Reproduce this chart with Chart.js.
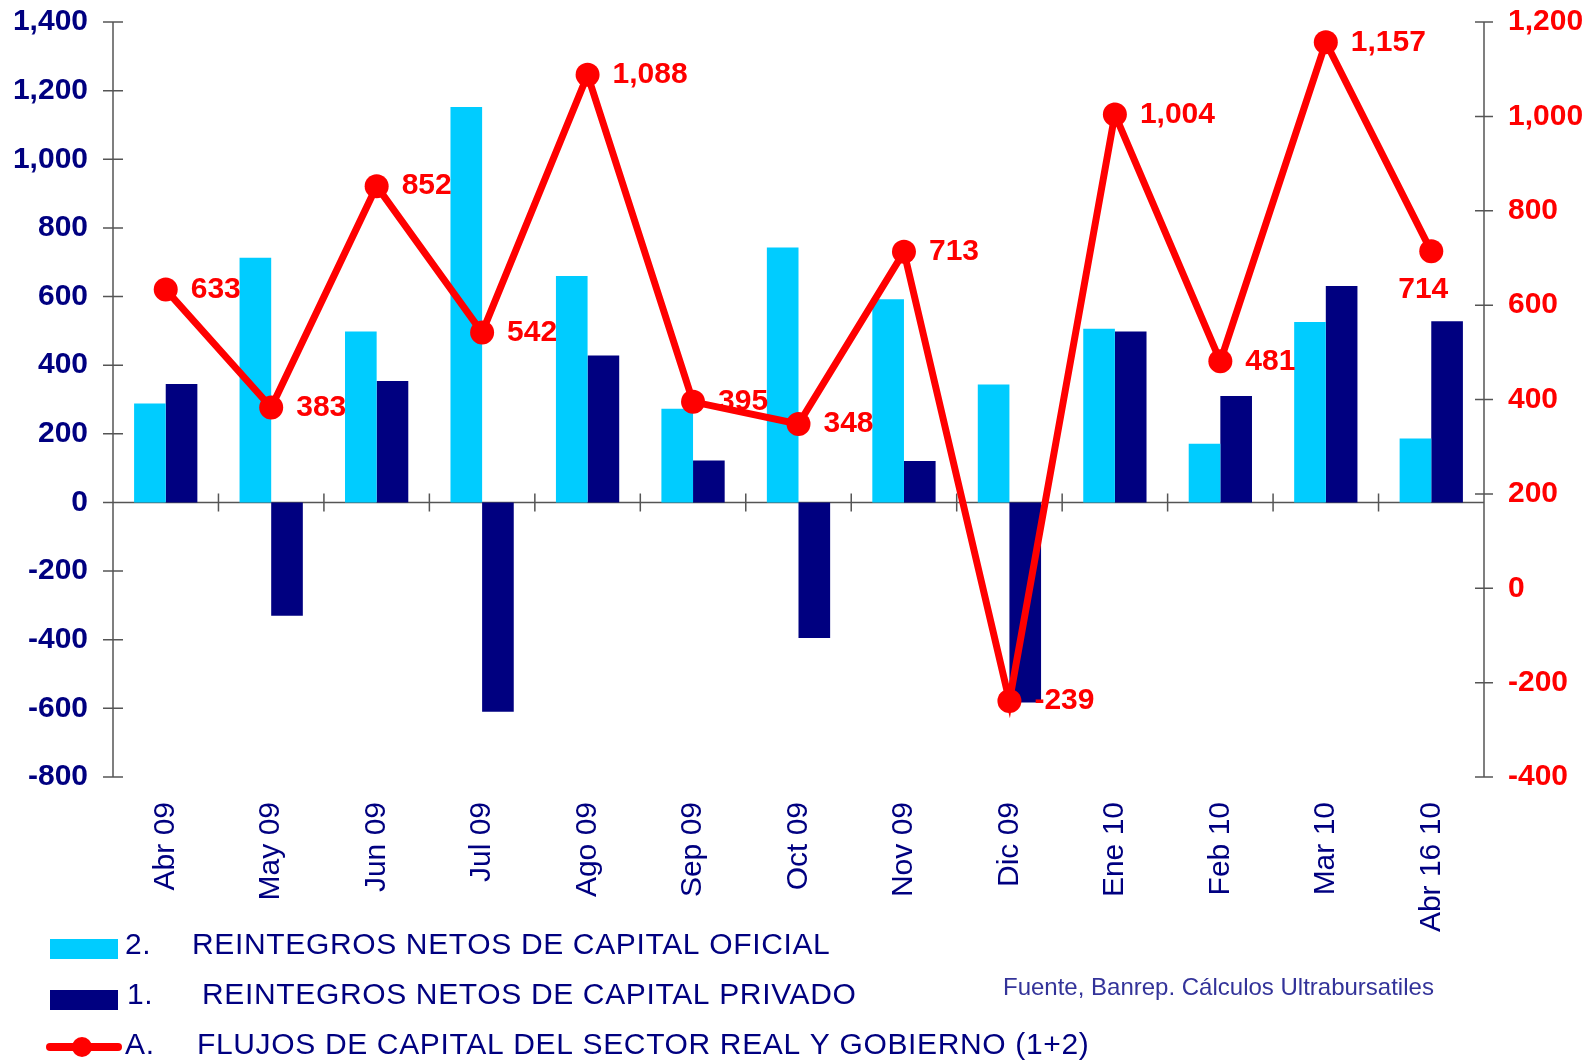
<!DOCTYPE html>
<html>
<head>
<meta charset="utf-8">
<script src="https://cdn.jsdelivr.net/npm/chart.js@4"></script>
<style>
  html, body { margin: 0; padding: 0; background: #fff; }
  #wrap { width: 1591px; height: 1061px; position: relative; }
</style>
</head>
<body>
<div id="wrap"><canvas id="flujosChart"></canvas></div>
<script>
// --- data ---
const categories = ['Abr 09', 'May 09', 'Jun 09', 'Jul 09', 'Ago 09', 'Sep 09', 'Oct 09',
                    'Nov 09', 'Dic 09', 'Ene 10', 'Feb 10', 'Mar 10', 'Abr 16 10'];
const oficial = [288, 713, 498, 1152, 660, 273, 743, 592, 344, 506, 171, 526, 186];
const privado = [345, -330, 354, -610, 428, 122, -395, 121, -583, 498, 310, 631, 528];
const flujos  = [633, 383, 852, 542, 1088, 395, 348, 713, -239, 1004, 481, 1157, 714];

const leftTicks  = { min: -800, max: 1400, step: 200 };
const rightTicks = { min: -400, max: 1200, step: 200 };

const seriesNames = [
  '2. REINTEGROS NETOS DE CAPITAL OFICIAL',
  '1. REINTEGROS NETOS DE CAPITAL PRIVADO',
  'A. FLUJOS DE CAPITAL DEL SECTOR REAL Y GOBIERNO (1+2)'
];
const sourceNote = 'Fuente, Banrep. Cálculos Ultrabursatiles';

const FONT = "'Liberation Sans', Arial, sans-serif";
const NAVY = '#000080';
const CYAN = '#00CCFF';
const RED = '#FF0000';

const fmt = v => Number(v).toLocaleString('en-US');

// axis lines with crossing tick marks (drawn behind the bars)
const axisLines = {
  id: 'axisLines',
  beforeDatasetsDraw(chart) {
    const { ctx, chartArea: a, scales } = chart;
    const x = scales.x, y = scales.y, y1 = scales.y1;
    ctx.save();
    ctx.strokeStyle = '#555';
    ctx.lineWidth = 1.5;
    ctx.beginPath();
    ctx.moveTo(a.left, a.top); ctx.lineTo(a.left, a.bottom);
    y.ticks.forEach(t => {
      const py = y.getPixelForValue(t.value);
      ctx.moveTo(a.left - 10, py); ctx.lineTo(a.left + 10, py);
    });
    ctx.moveTo(a.right, a.top); ctx.lineTo(a.right, a.bottom);
    y1.ticks.forEach(t => {
      const py = y1.getPixelForValue(t.value);
      ctx.moveTo(a.right - 9, py); ctx.lineTo(a.right + 9, py);
    });
    const zy = y.getPixelForValue(0);
    ctx.moveTo(a.left, zy); ctx.lineTo(a.right, zy);
    const half = (x.getPixelForValue(1) - x.getPixelForValue(0)) / 2;
    for (let i = 0; i <= categories.length; i++) {
      const bx = x.getPixelForValue(i) - half;
      ctx.moveTo(bx, zy - 9); ctx.lineTo(bx, zy + 9);
    }
    ctx.stroke();
    ctx.restore();
  }
};

// red value labels next to the line points
const pointLabels = {
  id: 'pointLabels',
  afterDatasetsDraw(chart) {
    const { ctx } = chart;
    const meta = chart.getDatasetMeta(2);
    ctx.save();
    ctx.fillStyle = RED;
    ctx.font = 'bold 30px ' + FONT;
    ctx.textBaseline = 'middle';
    meta.data.forEach((pt, i) => {
      const txt = fmt(flujos[i]);
      if (i === flujos.length - 1) {
        ctx.textAlign = 'center';
        ctx.fillText(txt, pt.x - 8, pt.y + 38);
      } else {
        ctx.textAlign = 'left';
        ctx.fillText(txt, pt.x + 25, pt.y);
      }
    });
    ctx.restore();
  }
};

// legend rows at the bottom left + source note
const bottomLegend = {
  id: 'bottomLegend',
  afterDraw(chart) {
    const { ctx } = chart;
    ctx.save();
    const rows = [
      { y: 949, textY: 946, textX: 192, numX: 125 },
      { y: 1000, textY: 996, textX: 202, numX: 127 },
      { y: 1047, textY: 1046, textX: 197, numX: 125 }
    ];
    rows.forEach((r, i) => {
      if (i === 0 || i === 1) {
        ctx.fillStyle = i === 0 ? CYAN : NAVY;
        ctx.fillRect(50, r.y - 10, 68, 20);
      } else {
        ctx.strokeStyle = RED;
        ctx.lineWidth = 8;
        ctx.lineCap = 'round';
        ctx.beginPath();
        ctx.moveTo(50, r.y); ctx.lineTo(118, r.y);
        ctx.stroke();
        ctx.fillStyle = RED;
        ctx.beginPath();
        ctx.arc(82, r.y, 10, 0, Math.PI * 2);
        ctx.fill();
      }
      const name = seriesNames[i];
      const sp = name.indexOf(' ');
      ctx.fillStyle = NAVY;
      ctx.font = '30px ' + FONT;
      ctx.letterSpacing = '0.65px';
      ctx.textAlign = 'left';
      ctx.textBaseline = 'middle';
      ctx.fillText(name.slice(0, sp), r.numX, r.textY);
      ctx.fillText(name.slice(sp + 1), r.textX, r.textY);
    });
    ctx.letterSpacing = '0px';
    ctx.fillStyle = '#333399';
    ctx.font = '24px ' + FONT;
    ctx.textBaseline = 'alphabetic';
    ctx.fillText(sourceNote, 1003, 995);
    ctx.restore();
  }
};

// drop the half-label padding Chart.js adds above/below vertical axes
function fixVertical(width) {
  return s => {
    s.width = width;
    s.paddingTop = 0;
    s.paddingBottom = 0;
  };
}

const ctx = document.getElementById('flujosChart').getContext('2d');
new Chart(ctx, {
  data: {
    labels: categories,
    datasets: [
      {
        type: 'bar', label: seriesNames[0], data: oficial, yAxisID: 'y',
        backgroundColor: CYAN, categoryPercentage: 0.6, barPercentage: 1.0, order: 2
      },
      {
        type: 'bar', label: seriesNames[1], data: privado, yAxisID: 'y',
        backgroundColor: NAVY, categoryPercentage: 0.6, barPercentage: 1.0, order: 2
      },
      {
        type: 'line', label: seriesNames[2], data: flujos, yAxisID: 'y1',
        borderColor: RED, borderWidth: 7, tension: 0,
        pointRadius: 12, pointBackgroundColor: RED, pointBorderWidth: 0,
        clip: false, order: 0
      }
    ]
  },
  options: {
    responsive: true,
    maintainAspectRatio: false,
    animation: false,
    layout: { padding: { top: 22, left: 0, right: 0, bottom: 0 } },
    plugins: {
      legend: { display: false },
      tooltip: { enabled: false }
    },
    scales: {
      x: {
        grid: { display: false, drawTicks: false },
        border: { display: false },
        ticks: {
          color: NAVY, font: { family: FONT, size: 30 },
          minRotation: 90, maxRotation: 90, padding: 25, autoSkip: false
        },
        afterFit(s) { s.height = 284; s.paddingLeft = 0; s.paddingRight = 0; }
      },
      y: {
        position: 'left',
        min: leftTicks.min, max: leftTicks.max,
        grid: { display: false, drawTicks: false },
        border: { display: false },
        ticks: {
          stepSize: leftTicks.step, color: NAVY, padding: 25,
          font: { family: FONT, size: 30, weight: 'bold' },
          callback: v => fmt(v)
        },
        afterFit: fixVertical(113)
      },
      y1: {
        position: 'right',
        min: rightTicks.min, max: rightTicks.max,
        grid: { display: false, drawTicks: false },
        border: { display: false },
        ticks: {
          stepSize: rightTicks.step, color: RED, padding: 24,
          font: { family: FONT, size: 30, weight: 'bold' },
          callback: v => fmt(v)
        },
        afterFit: fixVertical(107)
      }
    }
  },
  plugins: [axisLines, pointLabels, bottomLegend]
});
</script>
</body>
</html>
